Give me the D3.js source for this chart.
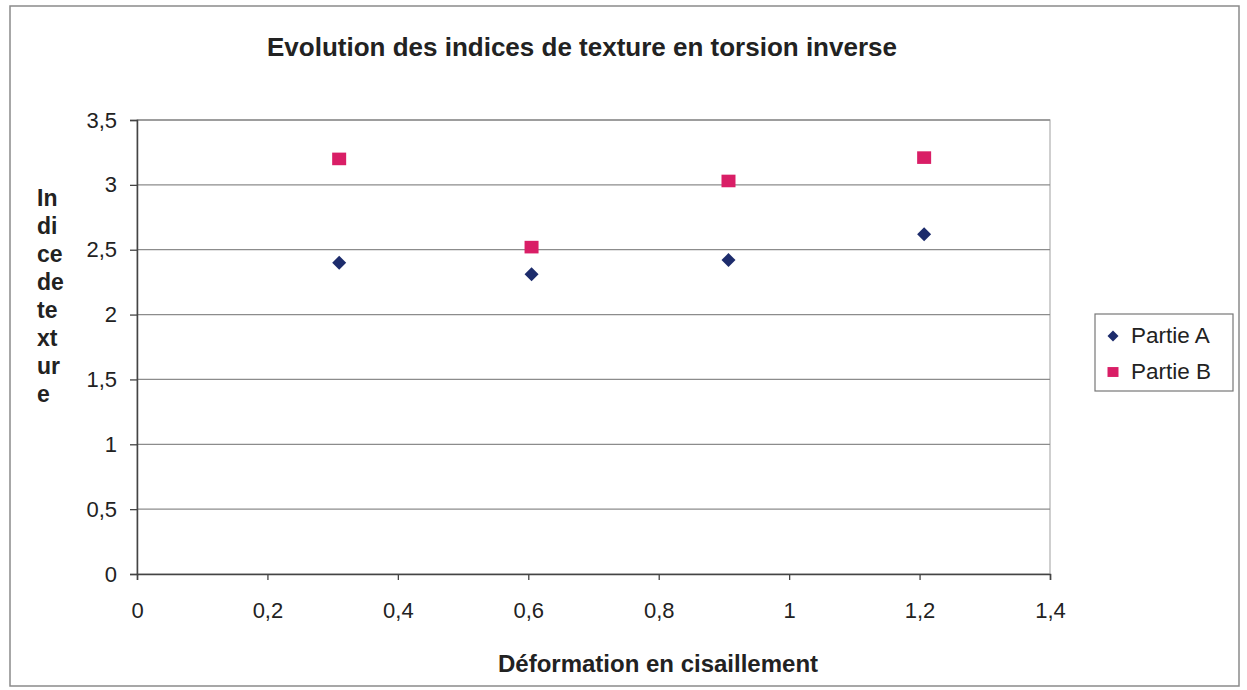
<!DOCTYPE html>
<html>
<head>
<meta charset="utf-8">
<script src="https://cdn.jsdelivr.net/npm/d3@7"></script>
<style>
  html, body { margin: 0; padding: 0; background: #fff; }
  svg { display: block; font-family: "Liberation Sans", Arial, sans-serif; }
</style>
</head>
<body>
<svg id="chart" width="1247" height="690"></svg>
<script>
// Shear strain values (x) and texture indices for both parts
const deformation = [0.31, 0.605, 0.907, 1.207];
const partieA = [2.40, 2.31, 2.42, 2.62];
const partieB = [3.20, 2.52, 3.03, 3.21];
const seriesNames = ["Partie A", "Partie B"];
const xTicks = [0, 0.2, 0.4, 0.6, 0.8, 1, 1.2, 1.4];
const yTicks = [0, 0.5, 1, 1.5, 2, 2.5, 3, 3.5];
const yTitleLines = ["In", "di", "ce", "de", "te", "xt", "ur", "e"];

const colorA = "#1d2c6c";
const colorB = "#d91e66";
const ink = "#222";

const svg = d3.select("#chart");
const plot = { left: 137, right: 1050, top: 120, bottom: 574 };

const x = d3.scaleLinear().domain([0, 1.4]).range([plot.left, plot.right]);
const y = d3.scaleLinear().domain([0, 3.5]).range([plot.bottom, plot.top]);

const fr = d3.formatLocale({ decimal: ",", thousands: " ", grouping: [3], currency: ["", " €"] });
const fmt = v => fr.format("~g")(v);

// Outer chart frame
svg.append("rect")
  .attr("x", 10).attr("y", 6).attr("width", 1229).attr("height", 680)
  .attr("fill", "#fff").attr("stroke", "#8a8a8a").attr("stroke-width", 1.5);

// Plot area border
svg.append("rect")
  .attr("x", plot.left).attr("y", plot.top)
  .attr("width", plot.right - plot.left).attr("height", plot.bottom - plot.top)
  .attr("fill", "none").attr("stroke", "#b0b0b0").attr("stroke-width", 1.2);

// Horizontal gridlines
svg.append("g").selectAll("line").data(yTicks.filter(v => v > 0)).join("line")
  .attr("x1", plot.left).attr("x2", plot.right)
  .attr("y1", d => y(d)).attr("y2", d => y(d))
  .attr("stroke", "#8c8c8c").attr("stroke-width", 1.3);

// Y axis
const yAxis = svg.append("g")
  .attr("transform", `translate(${plot.left},0)`)
  .call(d3.axisLeft(y).tickValues(yTicks).tickFormat(fmt).tickSize(7).tickPadding(13));
// X axis
const xAxis = svg.append("g")
  .attr("transform", `translate(0,${plot.bottom})`)
  .call(d3.axisBottom(x).tickValues(xTicks).tickFormat(fmt).tickSize(6).tickPadding(22));

[yAxis, xAxis].forEach(g => {
  g.select(".domain").attr("stroke", "#444").attr("stroke-width", 1.5);
  g.selectAll(".tick line").attr("stroke", "#444").attr("stroke-width", 1.3);
  g.selectAll(".tick text")
    .attr("fill", ink).style("font-size", "22px")
    .style("font-family", "'Liberation Sans', Arial, sans-serif");
});

// Marker shapes
const diamondPath = s => `M0,${-s}L${s},0L0,${s}L${-s},0Z`;
const squarePath = s => `M${-s},${-s * 0.9}H${s}V${s * 0.9}H${-s}Z`;

const series = [
  { name: seriesNames[0], values: partieA, color: colorA, path: diamondPath(7) },
  { name: seriesNames[1], values: partieB, color: colorB, path: squarePath(7) }
];

series.forEach(s => {
  svg.append("g").selectAll("path")
    .data(deformation.map((d, i) => [d, s.values[i]]))
    .join("path")
    .attr("transform", d => `translate(${x(d[0])},${y(d[1])})`)
    .attr("d", s.path)
    .attr("fill", s.color);
});

// Title
svg.append("text")
  .attr("x", 582).attr("y", 56)
  .attr("text-anchor", "middle")
  .attr("fill", ink)
  .style("font-size", "26px").style("font-weight", "bold")
  .text("Evolution des indices de texture en torsion inverse");

// X axis title
svg.append("text")
  .attr("x", 658).attr("y", 672)
  .attr("text-anchor", "middle")
  .attr("fill", ink)
  .style("font-size", "24px").style("font-weight", "bold")
  .text("Déformation en cisaillement");

// Y axis title, broken into short lines
svg.append("g").selectAll("text").data(yTitleLines).join("text")
  .attr("x", 37).attr("y", (d, i) => 206 + i * 28)
  .attr("fill", ink)
  .style("font-size", "23px").style("font-weight", "bold")
  .text(d => d);

// Legend
const legend = svg.append("g");
legend.append("rect")
  .attr("x", 1095).attr("y", 314).attr("width", 138).attr("height", 77)
  .attr("fill", "#fff").attr("stroke", "#777").attr("stroke-width", 1.2);
series.forEach((s, i) => {
  const cy = 335 + i * 36;
  legend.append("path")
    .attr("transform", `translate(1113,${cy + 1})`)
    .attr("d", i === 0 ? diamondPath(5.5) : squarePath(5.5))
    .attr("fill", s.color);
  legend.append("text")
    .attr("x", 1131).attr("y", cy + 7.5)
    .attr("fill", ink)
    .style("font-size", "22.5px")
    .text(s.name);
});
</script>
</body>
</html>
